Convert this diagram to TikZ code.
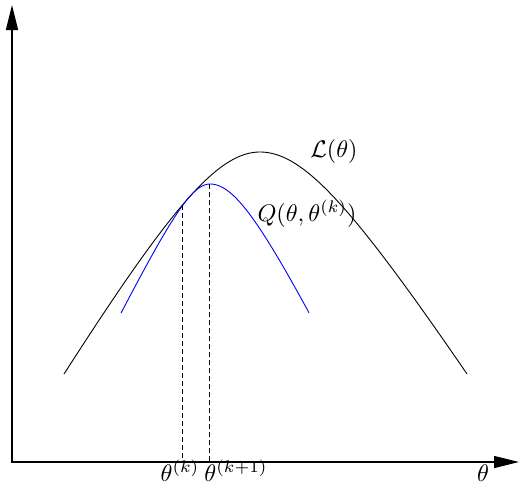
\documentclass[tikz,border=0pt]{standalone}
\usepackage{amsmath}
\usetikzlibrary{arrows.meta}
\tikzset{
  axis/.style={line width=1.3pt,-{Triangle[length=25pt,width=12pt]}},
  curve/.style={line width=0.9pt},
  guide/.style={line width=0.9pt,dash pattern=on 5pt off 3pt},
  lbl/.style={scale=2.4,inner sep=0pt}
}
\begin{document}
\begin{tikzpicture}[x=1pt,y=-1pt]
\useasboundingbox (0,0) rectangle (519,485);
% axes
\coordinate (o) at (12,462);
\coordinate (ytop) at (12,5);
\coordinate (xend) at (519,462);
\draw[axis] ([yshift=-0.65pt]o) -- (ytop);
\draw[axis] ([xshift=-0.65pt]o) -- (xend);
% L curve (black)
\draw[curve] plot[domain=64:260,samples=100,smooth] (\x,{152+1.686*10*(sqrt(64+((\x-260)/10)^2)-8)})
  -- plot[domain=260:467,samples=100,smooth] (\x,{152+1.564*10*(sqrt(64+((\x-260)/10)^2)-8)});
% Q curve (blue)
\draw[curve,blue] plot[domain=121:210,samples=100,smooth] (\x,{184+2.02*10*(sqrt(9+((\x-210)/10)^2)-3)})
  -- plot[domain=210:309,samples=100,smooth] (\x,{184+2.02*10*(sqrt(20.25+((\x-210)/10)^2)-4.5)});
% dashed guides
\coordinate (tk) at (182,205);
\coordinate (tkb) at (182,462);
\coordinate (tk1) at (209.5,184);
\coordinate (tk1b) at (209.5,462);
\draw[guide] (tk) -- (tkb);
\draw[guide] (tk1) -- (tk1b);
% labels
\node[lbl,anchor=base] (lk) at (180,481) {$\theta^{(k)}$};
\node[lbl,anchor=base west] (lk1) at (204,481) {$\theta^{(k+1)}$};
\node[lbl,anchor=base] (lt) at (483,481) {$\theta$};
\node[lbl,anchor=base] (lL) at (334,157) {$\mathcal{L}(\theta)$};
\node[lbl,anchor=base] (lQ) at (307,221) {$Q(\theta,\theta^{(k)})$};
\end{tikzpicture}
\end{document}
